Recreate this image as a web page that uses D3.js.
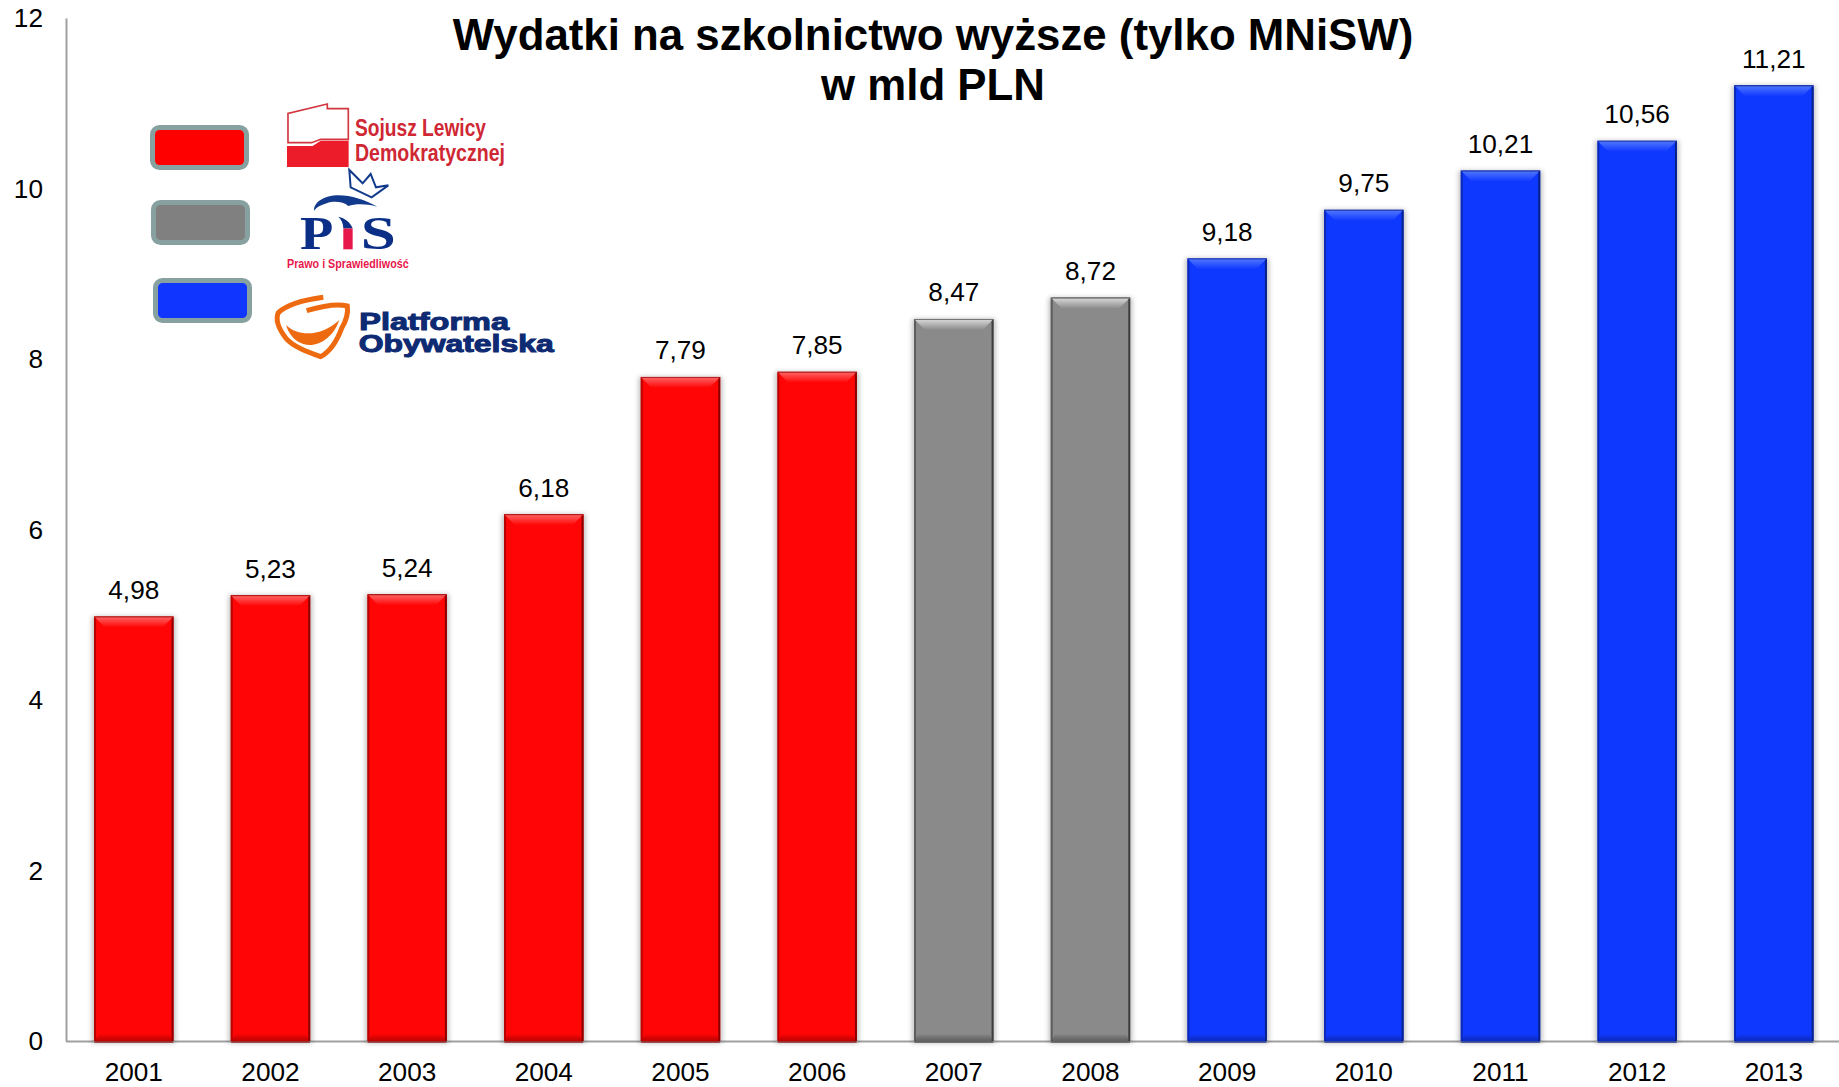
<!DOCTYPE html>
<html><head><meta charset="utf-8">
<script src="https://cdnjs.cloudflare.com/ajax/libs/d3/7.8.5/d3.min.js"></script>
<style>html,body{margin:0;padding:0;background:#fff;overflow:hidden}svg{display:block}
text{font-family:"Liberation Sans",Arial,sans-serif;fill:#000}</style></head><body><script>
const years=["2001","2002","2003","2004","2005","2006","2007","2008","2009","2010","2011","2012","2013"];
const values=[4.98,5.23,5.24,6.18,7.79,7.85,8.47,8.72,9.18,9.75,10.21,10.56,11.21];
const parties=["SLD","SLD","SLD","SLD","SLD","SLD","PiS","PiS","PO","PO","PO","PO","PO"];
const partyNames=["SLD","PiS","PO"];
const partyColors=["#ff0000","#808080","#0f35ff"];
const barColors=["#ff0505","#8a8a8a","#0f38ff"];
const partyLight=["#ff5a5a","#d0d0d0","#4a70ff"];
const partyDark=["#8a0000","#3e3e3e","#08208a"];
const yTicks=[0,2,4,6,8,10,12];
const titleLines=["Wydatki na szkolnictwo wyższe (tylko MNiSW)","w mld PLN"];

const W=1839,H=1087;
const svg=d3.select("body").append("svg").attr("width",W).attr("height",H);
const fmt=v=>d3.format(".2f")(v).replace(".",",");
const x=d3.scaleBand().domain(years).range([66,1841.6]).paddingInner(0.418).paddingOuter(0.205);
const y=d3.scaleLinear().domain([0,12]).range([1041,18]);
const color=d3.scaleOrdinal(partyNames,partyColors),barColor=d3.scaleOrdinal(partyNames,barColors),
      light=d3.scaleOrdinal(partyNames,partyLight),dark=d3.scaleOrdinal(partyNames,partyDark);

const defs=svg.append("defs");
defs.append("filter").attr("id","sh").attr("x","-10%").attr("y","-5%").attr("width","120%").attr("height","110%")
  .append("feGaussianBlur").attr("stdDeviation",2.5);
partyNames.forEach(p=>{
  const g=defs.append("linearGradient").attr("id","top"+p).attr("x1",0).attr("x2",0).attr("y1",0).attr("y2",1);
  g.append("stop").attr("offset","0%").attr("stop-color",dark(p));
  g.append("stop").attr("offset","14%").attr("stop-color",light(p));
  g.append("stop").attr("offset","100%").attr("stop-color",barColor(p));
  const b=defs.append("linearGradient").attr("id","bot"+p).attr("x1",0).attr("x2",0).attr("y1",0).attr("y2",1);
  b.append("stop").attr("offset","0%").attr("stop-color",barColor(p));
  b.append("stop").attr("offset","100%").attr("stop-color",dark(p)).attr("stop-opacity",.55);
});

// axis lines under the bars
svg.append("line").attr("x1",66).attr("x2",W).attr("y1",1041.5).attr("y2",1041.5).attr("stroke","#a0a0a0").attr("stroke-width",2);

// bars
const data=years.map((yr,i)=>({yr,v:values[i],p:parties[i]}));
const b=svg.append("g").selectAll("g").data(data).join("g");
b.append("rect").attr("x",d=>x(d.yr)-2).attr("y",d=>y(d.v)).attr("width",x.bandwidth()+4)
 .attr("height",d=>y(0)-y(d.v)+2).attr("fill","#000").attr("opacity",.25).attr("filter","url(#sh)");
b.append("rect").attr("x",d=>x(d.yr)).attr("y",d=>y(d.v)).attr("width",x.bandwidth())
 .attr("height",d=>y(0)-y(d.v)).attr("fill",d=>barColor(d.p));
const bev=11,side=2;
b.append("path").attr("fill",d=>`url(#top${d.p})`).attr("d",d=>{const a=x(d.yr),c=a+x.bandwidth(),t=y(d.v);
  return `M${a},${t}H${c}L${c-bev},${t+bev}H${a+bev}Z`;});
b.append("path").attr("fill",d=>`url(#bot${d.p})`).attr("d",d=>{const a=x(d.yr),c=a+x.bandwidth(),bt=y(0);
  return `M${a+4},${bt-7}H${c-4}L${c},${bt+2}H${a}Z`;});
b.append("path").attr("fill",d=>dark(d.p)).attr("opacity",.6).attr("d",d=>{const a=x(d.yr),t=y(d.v),bt=y(0);
  return `M${a},${t}L${a+side},${t+side}V${bt}H${a}Z`;});
b.append("path").attr("fill",d=>dark(d.p)).attr("d",d=>{const c=x(d.yr)+x.bandwidth(),t=y(d.v),bt=y(0);
  return `M${c},${t}L${c-side},${t+side}V${bt}H${c}Z`;});

// axes
const gy=svg.append("g").attr("transform","translate(66,0)").call(d3.axisLeft(y).tickValues(yTicks).tickSize(0));
gy.select(".domain").attr("stroke","#a0a0a0").attr("stroke-width",2);
gy.selectAll("text").attr("font-size",26.2).attr("fill","#000").attr("dy","0.34em").style("text-anchor","end").attr("x",-23);
const gx=svg.append("g").attr("transform","translate(0,1041)").call(d3.axisBottom(x).tickSize(0).tickPadding(21.5));
gx.select(".domain").remove();
gx.selectAll("text").attr("font-size",26.2).attr("fill","#000");

// value labels
svg.append("g").selectAll("text").data(data).join("text")
 .attr("x",d=>x(d.yr)+x.bandwidth()/2).attr("y",d=>y(d.v)-17.6).attr("text-anchor","middle")
 .attr("font-size",26.2).text(d=>fmt(d.v));

// title
svg.append("g").selectAll("text").data(titleLines).join("text").attr("x",933).attr("y",(d,i)=>50+i*50)
 .attr("text-anchor","middle").attr("font-weight","bold").attr("font-size",43.8).text(d=>d);

// legend swatches
const swatchX=[150,151,153],swatchY=[125,200,278];
svg.append("g").selectAll("rect").data(partyNames).join("rect")
 .attr("x",(d,i)=>swatchX[i]+2.5).attr("y",(d,i)=>swatchY[i]+2.5).attr("width",94).attr("height",40).attr("rx",7)
 .attr("fill",d=>color(d)).attr("stroke","#87a0a0").attr("stroke-width",5);

// party logos, coordinates follow the 3x crop of the legend area
const lg=svg.append("g").attr("transform","translate(130,90) scale(0.3333)");
lg.append("path").attr("fill","none").attr("stroke","#d2363f").attr("stroke-width",5)
  .attr("d","M474,155V70L592,42V56H655V148H572L545,158H474Z");
lg.append("path").attr("fill","#ec1c2a").attr("d","M471,168H548L572,152H656V231H471Z");
const sl=(t,xx,yy,w,fs,fill,extra)=>{const e=lg.append("text").attr("x",xx).attr("y",yy).attr("font-size",fs).style("fill",fill)
  .attr("textLength",w).attr("lengthAdjust","spacingAndGlyphs").text(t); if(extra)extra(e); return e;};
const bold=e=>e.attr("font-weight","bold");
sl("Sojusz Lewicy",675,138,393,70,"#cf2733",bold);
sl("Demokratycznej",675,214,450,70,"#cf2733",bold);
// PiS
lg.append("path").attr("fill","none").attr("stroke","#123a8c").attr("stroke-width",6)
  .attr("d","M658,240L662,292L725,322L775,286L738,292L722,252L698,280Z");
lg.append("path").attr("fill","#123a8c").attr("d","M552,362C552,332 590,316 625,316C665,316 705,330 742,350C705,340 675,342 655,348C640,335 612,332 590,340C572,345 560,352 552,362Z");
const serifGlyph=(t,xx,yy,sx,fs)=>lg.append("text").attr("transform",`translate(${xx},${yy}) scale(${sx},1)`)
  .attr("font-size",fs).attr("font-weight","bold").style("font-family","'Liberation Serif',serif").style("fill","#0b2f86").text(t);
serifGlyph("P",510,478,1.16,141);
lg.append("rect").attr("x",640).attr("y",415).attr("width",28).attr("height",63).attr("fill","#e8174b");
lg.append("path").attr("fill","#0b2f86").attr("d","M625,380C645,385 660,395 668,415H640C640,400 635,390 625,380Z");
serifGlyph("S",692,478,1.34,141);
sl("Prawo i Sprawiedliwość",471,533,365,36,"#e8174b",bold);
// PO
lg.append("path").attr("fill","none").attr("stroke","#ee6a10").attr("stroke-width",15)
  .attr("d","M580,622C520,630 470,645 445,668C435,690 445,715 468,745C490,770 530,785 572,800C600,785 620,755 635,715C650,690 655,670 652,648C620,640 570,650 530,662");
lg.append("path").attr("fill","#ee6a10").attr("d","M468,705C510,745 580,735 628,690C610,745 560,775 520,762C495,755 475,730 468,705Z");
const heavy=e=>e.attr("font-weight","bold").attr("stroke","#0d2a72").attr("stroke-width",3);
sl("Platforma",688,720,449,70,"#0d2a72",heavy);
sl("Obywatelska",686,785,585,70,"#0d2a72",heavy);
</script></body></html>
